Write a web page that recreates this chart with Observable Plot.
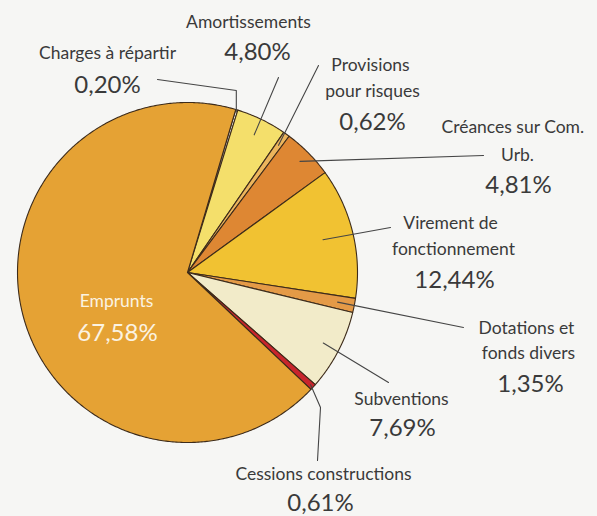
<!DOCTYPE html>
<html>
<head>
<meta charset="utf-8">
<script src="https://cdn.jsdelivr.net/npm/d3@7"></script>
<script src="https://cdn.jsdelivr.net/npm/@observablehq/plot@0.6"></script>
<style>
  html, body { margin: 0; padding: 0; background: #f6f6f4; }
  #chart { width: 597px; height: 516px; overflow: hidden; }
</style>
</head>
<body>
<div id="chart"></div>
<script>
// ---- data ----
const categories = ["Charges à répartir", "Amortissements", "Provisions pour risques", "Créances sur Com. Urb.", "Virement de fonctionnement", "Dotations et fonds divers", "Subventions", "Cessions constructions", "Emprunts"];
const values = [0.20, 4.80, 0.62, 4.81, 12.44, 1.35, 7.69, 0.61, 67.58];
const nameLines = [["Charges à répartir"], ["Amortissements"], ["Provisions", "pour risques"], ["Créances sur Com.", "Urb."], ["Virement de", "fonctionnement"], ["Dotations et", "fonds divers"], ["Subventions"], ["Cessions constructions"], ["Emprunts"]];
const colors = ["#ffffff", "#f4df6b", "#ecb55c", "#de8733", "#f1c232", "#e49a47", "#f2ebc9", "#c9252c", "#e5a234"];

// ---- layout (pixels) ----
const W = 597, H = 516;
const cx = 187, cy = 272, R = 170;
const startDeg = 16.5;
const labelLayout = [
  {lines: [[107, 53, "middle"]], pct: [107, 85], fr: 0.99, leader: [["vert", 90], [157, 79]]},
  {lines: [[248, 22, "middle"]], pct: [257, 52], fr: 0.9, leader: [[278, 77]]},
  {lines: [[370, 65, "middle"], [372, 91, "middle"]], pct: [372, 122], fr: 0.92, leader: [[318, 65]]},
  {lines: [[441, 127, "start"], [517, 155, "middle"]], pct: [518, 185], fr: 0.93, leader: [[483, 155]]},
  {lines: [[450, 223, "middle"], [453, 249, "middle"]], pct: [454, 280], fr: 0.82, leader: [[390, 227]]},
  {lines: [[526, 328, "middle"], [528, 353, "middle"]], pct: [530, 384], fr: 0.9, leader: [[463, 327]]},
  {lines: [[401, 399, "middle"]], pct: [402, 428], fr: 0.9, leader: [[388, 382]]},
  {lines: [[323, 474, "middle"]], pct: [320, 503], fr: 0.98, leader: [[320, 407], [317, 460]]},
  {lines: [[116, 301, "middle"]], pct: [117, 333], fr: null, leader: null}
];

const fmt = v => v.toFixed(2).replace(".", ",") + "%";

// pie angles via d3.pie (clockwise from 12 o'clock)
const start = startDeg * Math.PI / 180;
const arcs = d3.pie().sort(null).value(d => d).startAngle(start).endAngle(start + 2 * Math.PI)(values);
const pt = (a, r) => [cx + r * Math.sin(a), cy - r * Math.cos(a)];

const slicePts = [];
arcs.forEach((a, i) => {
  const name = categories[i];
  slicePts.push({name, x: cx, y: cy});
  const n = Math.max(2, Math.ceil((a.endAngle - a.startAngle) / 0.01));
  for (let k = 0; k <= n; k++) {
    const ang = a.startAngle + (a.endAngle - a.startAngle) * k / n;
    const [x, y] = pt(ang, R);
    slicePts.push({name, x, y});
  }
  slicePts.push({name, x: cx, y: cy});
});

const leaderPts = [];
const textRows = [];
arcs.forEach((a, i) => {
  const L = labelLayout[i];
  const name = categories[i];
  const white = L.fr === null;
  if (L.leader) {
    const mid = (a.startAngle + a.endAngle) / 2;
    const [ix, iy] = pt(mid, R * L.fr);
    leaderPts.push({name, x: ix, y: iy});
    L.leader.forEach(p => {
      if (p[0] === "vert") leaderPts.push({name, x: ix, y: p[1]});
      else leaderPts.push({name, x: p[0], y: p[1]});
    });
  }
  nameLines[i].forEach((t, j) => {
    const [x, y, anchor] = L.lines[j];
    textRows.push({x, y, text: t, size: 17.5, anchor, fill: white ? "#fbf3e2" : "#3a3a3a"});
  });
  textRows.push({x: L.pct[0], y: L.pct[1], text: fmt(values[i]), size: 24, anchor: "middle", fill: white ? "#fbf3e2" : "#3a3a3a"});
});

const chart = Plot.plot({
  width: W, height: H,
  margin: 0,
  x: {domain: [0, W], range: [0, W], axis: null},
  y: {domain: [0, H], range: [0, H], axis: null},
  color: {domain: categories, range: colors},
  style: {background: "#f6f6f4", fontFamily: "Lato, 'Open Sans', sans-serif", overflow: "hidden"},
  marks: [
    Plot.line(slicePts, {x: "x", y: "y", z: "name", fill: "name", stroke: "#3d2b1a", strokeWidth: 1.1, strokeLinejoin: "round", curve: "linear"}),
    Plot.line(leaderPts, {x: "x", y: "y", z: "name", stroke: "#454545", strokeWidth: 1.1}),
    Plot.text(textRows.filter(d => d.anchor === "middle" && d.size < 20), {x: "x", y: "y", text: "text", fill: d => d.fill, fontSize: 17.5, textAnchor: "middle", lineAnchor: "middle"}),
    Plot.text(textRows.filter(d => d.anchor === "start"), {x: "x", y: "y", text: "text", fill: d => d.fill, fontSize: 17.5, textAnchor: "start", lineAnchor: "middle"}),
    Plot.text(textRows.filter(d => d.size >= 20), {x: "x", y: "y", text: "text", fill: d => d.fill, fontSize: 24, textAnchor: "middle", lineAnchor: "middle"})
  ]
});
document.getElementById("chart").append(chart);
</script>
</body>
</html>
